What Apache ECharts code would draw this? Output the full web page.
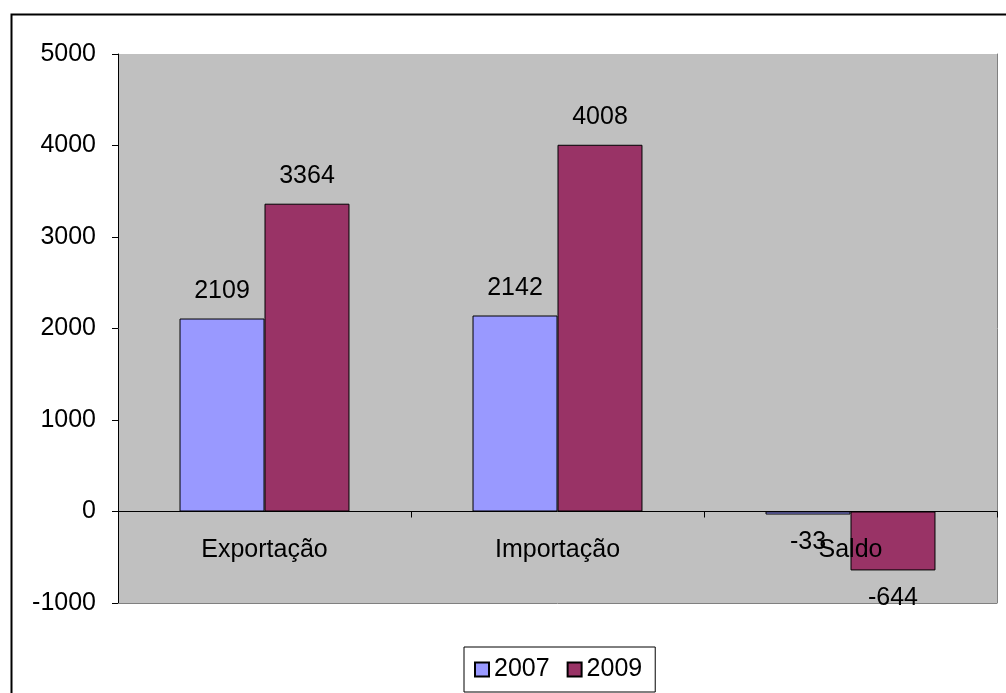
<!DOCTYPE html>
<html>
<head>
<meta charset="utf-8">
<script src="https://cdn.jsdelivr.net/npm/echarts@6/dist/echarts.min.js"></script>
<style>html,body{margin:0;padding:0;background:#fff}#c{width:1006px;height:693px}</style>
</head>
<body>
<div id="c"></div>
<script>
const categories = ['Exportação', 'Importação', 'Saldo'];
const seriesNames = ['2007', '2009'];
const values2007 = [2109, 2142, -33];
const values2009 = [3364, 4008, -644];
const yTicks = { min: -1000, max: 5000, interval: 1000 };

const FONT = '"Liberation Sans", Arial, sans-serif';
const FS = 25;
const W = 1006, H = 693;
const GRID = { left: 118, right: 9, top: 54, bottom: 90 };
const gridH = H - GRID.top - GRID.bottom;
// place the category axis on the zero line of the value axis
const zeroOffset = -((0 - yTicks.min) / (yTicks.max - yTicks.min)) * gridH;

const chart = echarts.init(document.getElementById('c'), null, { renderer: 'canvas' });

function toData(arr) {
  return arr.map(v => ({
    value: v,
    label: { position: v < 0 ? 'bottom' : 'top' }
  }));
}

const labelCommon = {
  show: true, distance: 15, color: '#000', fontSize: FS, fontFamily: FONT
};

chart.setOption({
  animation: false,
  backgroundColor: '#fff',
  graphic: [{
    type: 'rect', left: 9, top: 12,
    shape: { width: 1010, height: 700 },
    style: { fill: 'none', stroke: '#000', lineWidth: 2 },
    silent: true
  }, {
    type: 'line', silent: true, z: 1,
    shape: { x1: GRID.left, y1: H - GRID.bottom + 0.5, x2: W - GRID.right, y2: H - GRID.bottom + 0.5 },
    style: { stroke: '#808080', lineWidth: 1 }
  }],
  grid: {
    left: GRID.left, right: GRID.right, top: GRID.top, bottom: GRID.bottom,
    show: true, backgroundColor: '#C0C0C0', borderWidth: 0
  },
  legend: {
    data: seriesNames,
    left: 464, top: 647,
    orient: 'horizontal',
    padding: [10, 13, 10, 10],
    itemGap: 17,
    itemWidth: 14, itemHeight: 14,
    icon: 'rect',
    borderColor: '#000', borderWidth: 1,
    backgroundColor: '#fff',
    textStyle: { color: '#000', fontSize: FS, fontFamily: FONT }
  },
  xAxis: {
    type: 'category',
    data: categories,
    position: 'bottom',
    offset: zeroOffset,
    axisLine: { onZero: false, lineStyle: { color: '#000', width: 1 } },
    axisTick: { show: true, alignWithLabel: false, length: 6, lineStyle: { color: '#000' } },
    axisLabel: { color: '#000', fontSize: FS, fontFamily: FONT, margin: 26 },
    splitLine: { show: false },
    z: 5
  },
  yAxis: [{
    type: 'value',
    min: yTicks.min, max: yTicks.max, interval: yTicks.interval,
    axisLine: { show: true, lineStyle: { color: '#000', width: 1 } },
    axisTick: { show: true, length: 6, lineStyle: { color: '#000' } },
    axisLabel: { color: '#000', fontSize: FS, fontFamily: FONT, margin: 22, formatter: v => String(v) },
    splitLine: { show: false }
  }, {
    type: 'value',
    position: 'right',
    min: yTicks.min, max: yTicks.max, interval: yTicks.interval,
    axisLine: { show: true, lineStyle: { color: '#808080', width: 1 } },
    axisTick: { show: false },
    axisLabel: { show: false },
    splitLine: { show: false }
  }],
  series: [{
    name: seriesNames[0],
    type: 'bar',
    data: toData(values2007),
    barGap: '0%',
    barCategoryGap: '42%',
    itemStyle: { color: '#9999FF', borderColor: '#000', borderWidth: 1 },
    label: labelCommon
  }, {
    name: seriesNames[1],
    type: 'bar',
    data: toData(values2009),
    barGap: '0%',
    barCategoryGap: '42%',
    itemStyle: { color: '#993366', borderColor: '#000', borderWidth: 1 },
    label: labelCommon
  }]
});
</script>
</body>
</html>
